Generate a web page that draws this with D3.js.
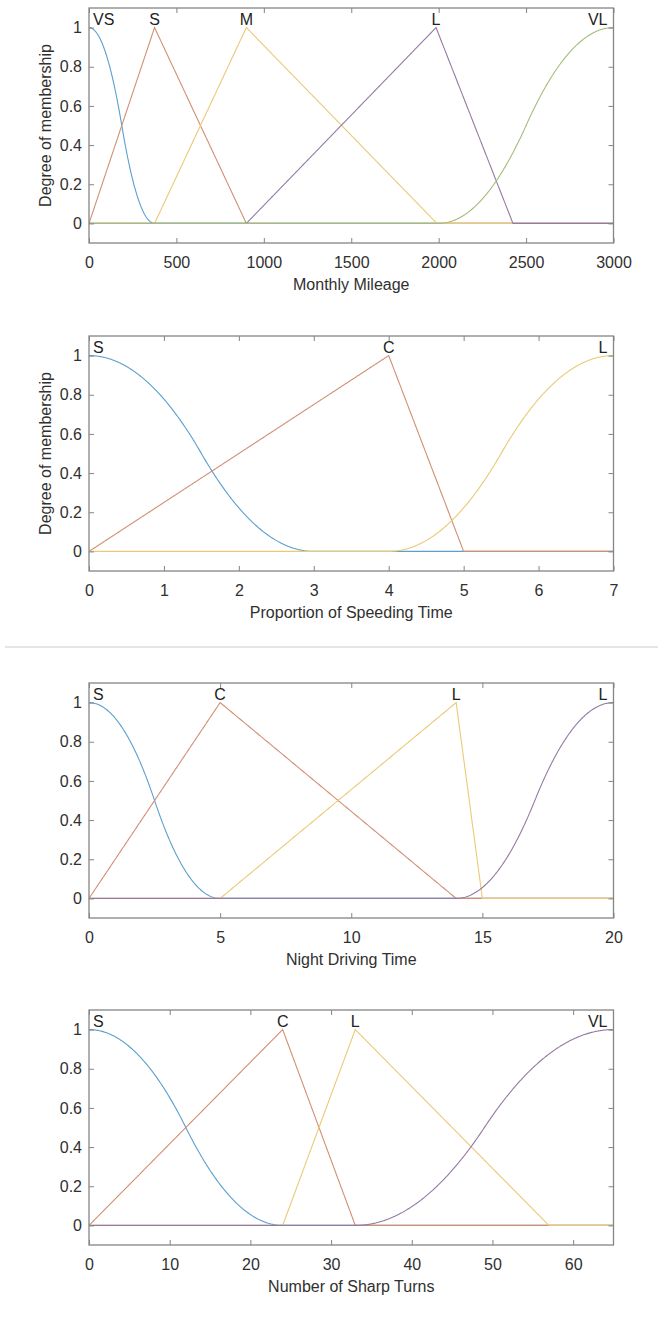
<!DOCTYPE html>
<html>
<head>
<meta charset="utf-8">
<script src="https://cdn.jsdelivr.net/npm/d3@7"></script>
<style>
  html, body { margin: 0; padding: 0; background: #fff; }
  svg { display: block; font-family: "Liberation Sans", Arial, Helvetica, sans-serif; }
</style>
</head>
<body>
<svg id="chart" width="659" height="1317"></svg>
<script>
// ---- Monthly mileage ----
const mileageTerms  = ["VS", "S", "M", "L", "VL"];
const mileageTypes  = ["zmf", "trimf", "trimf", "trimf", "smf"];
const mileageParams = [[0, 375], [0, 375, 900], [375, 900, 1990], [900, 1985, 2425], [2000, 3000]];
const mileageRange  = [0, 3000];
const mileageTicks  = [0, 500, 1000, 1500, 2000, 2500, 3000];

// ---- Proportion of speeding time ----
const speedingTerms  = ["S", "C", "L"];
const speedingTypes  = ["zmf", "trimf", "smf"];
const speedingParams = [[0, 3], [0, 4, 5], [4, 7]];
const speedingRange  = [0, 7];
const speedingTicks  = [0, 1, 2, 3, 4, 5, 6, 7];

// ---- Night driving time ----
const nightTerms  = ["S", "C", "L", "L"];
const nightTypes  = ["zmf", "trimf", "trimf", "smf"];
const nightParams = [[0, 5], [0, 5, 14], [5, 14, 15], [14, 20]];
const nightRange  = [0, 20];
const nightTicks  = [0, 5, 10, 15, 20];

// ---- Number of sharp turns ----
const turnsTerms  = ["S", "C", "L", "VL"];
const turnsTypes  = ["zmf", "trimf", "trimf", "smf"];
const turnsParams = [[0, 24], [0, 24, 33], [24, 33, 57], [33, 65]];
const turnsRange  = [0, 65];
const turnsTicks  = [0, 10, 20, 30, 40, 50, 60];

const membershipTicks = [0, 0.2, 0.4, 0.6, 0.8, 1];

// Axis titles
const xTitles = ["Monthly Mileage", "Proportion of Speeding Time", "Night Driving Time", "Number of Sharp Turns"];
const yTitle = "Degree of membership";

// Line colour order (soft blue, orange, yellow, purple, green)
const lineColors = ["#5b9fcf", "#d28f72", "#ebc977", "#957aa3", "#a3bd7c"];

// ---- Membership functions ----
const mf = {
  trimf: (x, [a, b, c]) => {
    const up = b === a ? (x >= a ? 1 : 0) : (x - a) / (b - a);
    const down = c === b ? (x <= b ? 1 : 0) : (c - x) / (c - b);
    return Math.max(Math.min(up, down), 0);
  },
  zmf: (x, [a, b]) => {
    if (x <= a) return 1;
    if (x <= (a + b) / 2) return 1 - 2 * ((x - a) / (b - a)) ** 2;
    if (x <= b) return 2 * ((x - b) / (b - a)) ** 2;
    return 0;
  },
  smf: (x, [a, b]) => {
    if (x <= a) return 0;
    if (x <= (a + b) / 2) return 2 * ((x - a) / (b - a)) ** 2;
    if (x <= b) return 1 - 2 * ((x - b) / (b - a)) ** 2;
    return 1;
  }
};
const peakOf = (type, p) => type === "trimf" ? p[1] : (type === "zmf" ? p[0] : p[1]);

const panels = [
  { terms: mileageTerms,  types: mileageTypes,  params: mileageParams,  range: mileageRange,  ticks: mileageTicks,  showY: true },
  { terms: speedingTerms, types: speedingTypes, params: speedingParams, range: speedingRange, ticks: speedingTicks, showY: true },
  { terms: nightTerms,    types: nightTypes,    params: nightParams,    range: nightRange,    ticks: nightTicks,    showY: false },
  { terms: turnsTerms,    types: turnsTypes,    params: turnsParams,    range: turnsRange,    ticks: turnsTicks,    showY: false }
];

const svg = d3.select("#chart");
const panelTops = [8, 336, 683, 1010];
const left = 89, right = 613.5, boxH = 235;
const axisColor = "#858585";
const textColor = "#303030";
const fontSize = 16;

panels.forEach((pan, i) => {
  const top = panelTops[i];
  const x = d3.scaleLinear().domain(pan.range).range([left, right]);
  const y = d3.scaleLinear().domain([-0.1, 1.1]).range([top + boxH, top]);
  const g = svg.append("g");

  // Membership curves, each over the full universe of discourse
  const n = 600;
  pan.types.forEach((type, k) => {
    const p = pan.params[k];
    const xs = d3.range(n + 1).map(j => pan.range[0] + (pan.range[1] - pan.range[0]) * j / n)
      .concat(p.filter(v => v >= pan.range[0] && v <= pan.range[1]));
    const pts = Array.from(new Set(xs)).sort((a, b) => a - b).map(v => [v, mf[type](v, p)]);
    g.append("path")
      .datum(pts)
      .attr("fill", "none")
      .attr("stroke", lineColors[k])
      .attr("stroke-width", 1.1)
      .attr("d", d3.line().x(d => x(d[0])).y(d => y(d[1])));
  });

  // Ticks on all four sides, pointing inward
  const styleAxis = sel => {
    sel.select(".domain").remove();
    sel.selectAll(".tick line").attr("stroke", axisColor).attr("stroke-width", 1);
    sel.selectAll(".tick text").attr("fill", textColor).attr("font-size", fontSize)
      .attr("font-family", '"Liberation Sans", Arial, sans-serif');
    sel.attr("font-family", null).attr("font-size", null);
  };
  g.append("g").attr("transform", `translate(0,${top + boxH})`)
    .call(d3.axisBottom(x).tickValues(pan.ticks).tickSize(-5).tickPadding(13.5).tickFormat(d3.format("~g")))
    .call(styleAxis);
  g.append("g").attr("transform", `translate(0,${top})`)
    .call(d3.axisTop(x).tickValues(pan.ticks).tickSize(-5).tickFormat(""))
    .call(styleAxis);
  g.append("g").attr("transform", `translate(${left},0)`)
    .call(d3.axisLeft(y).tickValues(membershipTicks).tickSize(-5).tickPadding(7).tickFormat(d3.format("~g")))
    .call(styleAxis);
  g.append("g").attr("transform", `translate(${right},0)`)
    .call(d3.axisRight(y).tickValues(membershipTicks).tickSize(-5).tickFormat(""))
    .call(styleAxis);

  // Axes box
  g.append("rect")
    .attr("x", left).attr("y", top)
    .attr("width", right - left).attr("height", boxH)
    .attr("fill", "none").attr("stroke", axisColor).attr("stroke-width", 1.3);

  // Term labels above each peak, kept inside the box
  pan.terms.forEach((term, k) => {
    const px = x(peakOf(pan.types[k], pan.params[k]));
    const t = g.append("text")
      .attr("y", y(1) - 3)
      .attr("font-size", fontSize)
      .attr("fill", "#222")
      .attr("text-anchor", "middle")
      .text(term);
    const w = t.node().getComputedTextLength();
    const cx = Math.min(Math.max(px, left + 4 + w / 2), right - 6 - w / 2);
    t.attr("x", cx);
  });

  // Axis titles
  g.append("text")
    .attr("x", (left + right) / 2).attr("y", top + boxH + 47)
    .attr("text-anchor", "middle").attr("font-size", fontSize).attr("fill", textColor)
    .text(xTitles[i]);
  if (pan.showY) {
    g.append("text")
      .attr("transform", `translate(51,${top + boxH / 2}) rotate(-90)`)
      .attr("text-anchor", "middle").attr("font-size", fontSize).attr("fill", textColor)
      .text(yTitle);
  }
});

// Divider between the upper and lower pairs of plots
svg.append("line")
  .attr("x1", 5).attr("x2", 658).attr("y1", 647).attr("y2", 647)
  .attr("stroke", "#cccccc").attr("stroke-width", 1.2);
</script>
</body>
</html>
